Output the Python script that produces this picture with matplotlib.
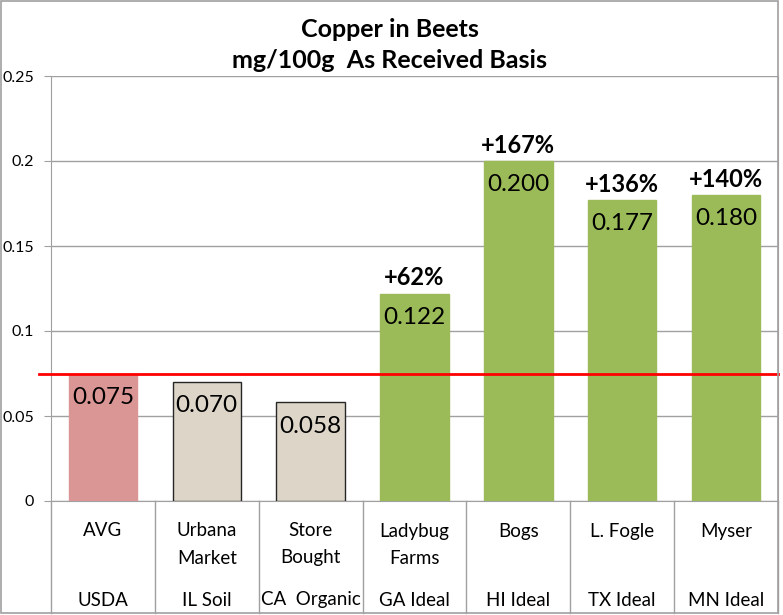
import matplotlib.pyplot as plt
from matplotlib.patches import Rectangle

plt.rcParams['font.family'] = ['Lato', 'DejaVu Sans']

names = ['AVG', 'Urbana\nMarket', 'Store\nBought', 'Ladybug\nFarms', 'Bogs', 'L. Fogle', 'Myser']
sources = ['USDA', 'IL Soil', 'CA  Organic', 'GA Ideal', 'HI Ideal', 'TX Ideal', 'MN Ideal']
copper = [0.075, 0.070, 0.058, 0.122, 0.200, 0.177, 0.180]
pct_labels = ['', '', '', '+62%', '+167%', '+136%', '+140%']
usda_avg = 0.075

colors = ['#D99694', '#DDD6C8', '#DDD6C8', '#9BBB59', '#9BBB59', '#9BBB59', '#9BBB59']
edges = ['#D99694', '#262626', '#262626', '#9BBB59', '#9BBB59', '#9BBB59', '#9BBB59']

W, H = 783, 615
fig = plt.figure(figsize=(W / 100, H / 100), dpi=100)
ax = fig.add_axes([51 / W, (H - 501) / H, (778 - 51) / W, (501 - 76) / H])

x = list(range(len(copper)))
bars = ax.bar(x, copper, width=0.66, color=colors, edgecolor=edges, linewidth=1.0, zorder=3)

ax.set_xlim(-0.5, 6.5)
ax.set_ylim(0, 0.25)
ax.set_yticks([0, 0.05, 0.1, 0.15, 0.2, 0.25])
ax.set_yticklabels(['0', '0.05', '0.1', '0.15', '0.2', '0.25'])
ax.tick_params(axis='y', labelsize=11.5, length=5, color='#A0A0A0', pad=7)
ax.set_xticks([])
ax.grid(axis='y', color='#A0A0A0', linewidth=1.0, zorder=0)
ax.spines['top'].set_visible(False)
for s in ['left', 'right', 'bottom']:
    ax.spines[s].set_color('#A0A0A0')

# USDA average line
ax.axhline(usda_avg, xmin=-0.016, xmax=1.0, color='red', linewidth=2.0, zorder=4, clip_on=False)

# value labels inside bars and percent labels above
for xi, v, p in zip(x, copper, pct_labels):
    ax.annotate(f'{v:.3f}', (xi, v), xytext=(0, -17), textcoords='offset points',
                ha='center', va='center', fontsize=17.5, zorder=5)
    if p:
        ax.annotate(p, (xi, v), xytext=(0, 3), textcoords='offset points',
                    ha='center', va='bottom', fontsize=17, fontweight='bold')

# category table below the axis
tr = ax.get_xaxis_transform()
def ay(px):
    return (501 - px) / 425

for b in [i - 0.5 for i in range(len(copper) + 1)]:
    ax.plot([b, b], [0, ay(613)], transform=tr, color='#A0A0A0', linewidth=1.0, clip_on=False)
for xi, n, s in zip(x, names, sources):
    lines = n.split('\n')
    for k, line in enumerate(lines):
        ax.text(xi, ay(531 + 27 * k), line, transform=tr, ha='center', va='center', fontsize=13.5)
    ax.text(xi, ay(600), s, transform=tr, ha='center', va='center', fontsize=13.5)

# chart frame
fig.patches.append(Rectangle((1 / W, (H - 613) / H), 777 / W, 612 / H, transform=fig.transFigure,
                             fill=False, edgecolor='#A0A0A0', linewidth=1.2))

fig.text(390 / W, (H - 37) / H, 'Copper in Beets', ha='center', va='baseline', fontsize=18, fontweight='bold')
fig.text(390 / W, (H - 68) / H, 'mg/100g  As Received Basis', ha='center', va='baseline', fontsize=18, fontweight='bold')

fig.savefig('out.png', dpi=100)
